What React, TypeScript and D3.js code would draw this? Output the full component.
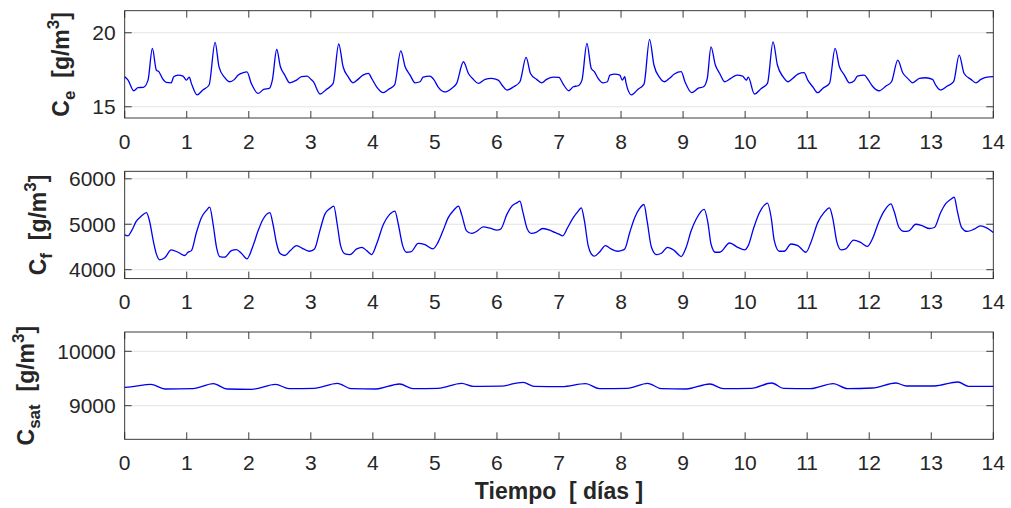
import React from "react";
import * as d3 from "d3";

// ---------- data ----------
const dayTicks = [0, 1, 2, 3, 4, 5, 6, 7, 8, 9, 10, 11, 12, 13, 14];

// C_e [g/m^3]
const ceTime = [
  0, 0.054, 0.145, 0.215, 0.3, 0.376, 0.446, 0.51, 0.55, 0.61, 0.67, 0.75, 0.79, 0.86, 0.94, 0.995,
  1.04, 1.075, 1.167, 1.26, 1.36, 1.457, 1.52, 1.61, 1.69, 1.77, 1.83, 1.91, 1.97,
  2.04, 2.15, 2.24, 2.33, 2.38, 2.45, 2.51, 2.58, 2.66, 2.77, 2.85, 2.94, 2.99,
  3.04, 3.15, 3.25, 3.36, 3.45, 3.52, 3.6, 3.68, 3.76, 3.84, 3.93, 3.98,
  4.06, 4.17, 4.25, 4.35, 4.45, 4.52, 4.6, 4.68, 4.76, 4.81, 4.92, 4.98,
  5.05, 5.16, 5.27, 5.35, 5.46, 5.54, 5.62, 5.7, 5.81, 5.91,
  6.02, 6.08, 6.16, 6.27, 6.37, 6.47, 6.54, 6.64, 6.72, 6.8, 6.91,
  7.0, 7.06, 7.16, 7.23, 7.31, 7.37, 7.45, 7.52, 7.57, 7.63, 7.71, 7.78, 7.82, 7.9, 7.98,
  8.02, 8.06, 8.08, 8.17, 8.27, 8.37, 8.46, 8.53, 8.62, 8.7, 8.78, 8.86, 8.97,
  9.03, 9.14, 9.24, 9.33, 9.39, 9.45, 9.52, 9.59, 9.67, 9.77, 9.87, 9.96,
  10.02, 10.05, 10.15, 10.26, 10.36, 10.45, 10.52, 10.61, 10.69, 10.77, 10.85, 10.95,
  11.01, 11.09, 11.17, 11.25, 11.36, 11.45, 11.52, 11.6, 11.68, 11.76, 11.81, 11.92, 11.98,
  12.05, 12.16, 12.27, 12.36, 12.46, 12.54, 12.62, 12.7, 12.81, 12.91,
  13.02, 13.07, 13.15, 13.26, 13.36, 13.45, 13.53, 13.64, 13.72, 13.8, 13.9, 14.0,
];
const ceValue = [
  17.03, 16.8, 16.08, 16.29, 16.31, 16.8, 18.94, 17.48, 17.37, 16.9, 16.65, 16.62, 17.03, 17.14, 17.07, 16.8,
  17.0, 16.58, 15.8, 16.13, 16.47, 19.35, 17.7, 16.98, 16.69, 16.85, 17.14, 17.3, 17.35,
  16.58, 15.9, 16.17, 16.24, 16.8, 18.87, 17.7, 17.14, 16.62, 16.8, 17.03, 17.07, 16.9,
  16.7, 15.86, 16.17, 16.58, 19.24, 17.7, 17.03, 16.62, 16.85, 17.14, 17.25, 16.92,
  16.35, 15.95, 16.17, 16.47, 18.78, 17.7, 17.14, 16.62, 16.69, 17.0, 17.07, 16.85,
  16.35, 16.0, 16.24, 16.58, 18.04, 17.25, 16.85, 16.58, 16.85, 16.92,
  16.8, 16.47, 16.13, 16.35, 16.69, 18.33, 17.25, 16.85, 16.62, 16.85, 17.0,
  16.98, 16.58, 16.08, 16.35, 16.42, 16.8, 19.28, 17.59, 17.37, 16.92, 16.62, 16.69, 17.14, 17.21, 17.14,
  16.8, 17.03, 16.62, 15.8, 16.17, 16.53, 19.55, 17.82, 16.98, 16.69, 16.92, 17.21, 17.37,
  16.69, 15.95, 16.24, 16.35, 16.92, 19.05, 17.82, 17.25, 16.69, 16.92, 17.14, 17.07,
  16.8, 17.0, 15.86, 16.24, 16.58, 19.39, 17.82, 17.03, 16.69, 16.92, 17.21, 17.3,
  16.8, 16.35, 15.95, 16.24, 16.58, 18.94, 17.7, 17.14, 16.62, 16.76, 17.07, 17.14, 16.85,
  16.4, 16.08, 16.4, 16.69, 18.15, 17.3, 16.92, 16.62, 16.92, 16.96,
  16.85, 16.47, 16.13, 16.4, 16.69, 18.49, 17.25, 16.85, 16.62, 16.85, 17.0, 17.03,
];

// C_f [g/m^3]
const cfTime = [
  0, 0.054, 0.11, 0.19, 0.27, 0.35, 0.4, 0.46, 0.51, 0.565, 0.645, 0.75, 0.86, 0.97,
  1.02, 1.075, 1.156, 1.236, 1.317, 1.37, 1.425, 1.48, 1.53, 1.61, 1.72, 1.8, 1.88, 1.97,
  2.06, 2.15, 2.23, 2.34, 2.39, 2.45, 2.5, 2.58, 2.67, 2.77, 2.88, 2.98,
  3.06, 3.145, 3.225, 3.31, 3.37, 3.425, 3.48, 3.55, 3.63, 3.74, 3.82, 3.9, 3.98,
  4.06, 4.17, 4.27, 4.355, 4.41, 4.48, 4.54, 4.62, 4.73, 4.84, 4.97,
  5.05, 5.13, 5.215, 5.3, 5.38, 5.43, 5.51, 5.59, 5.67, 5.78, 5.89,
  6.0, 6.06, 6.16, 6.24, 6.32, 6.37, 6.42, 6.49, 6.56, 6.63, 6.74, 6.85, 6.93,
  7.0, 7.06, 7.14, 7.23, 7.31, 7.36, 7.41, 7.47, 7.52, 7.57, 7.65, 7.75, 7.84, 7.95,
  8.0, 8.06, 8.14, 8.22, 8.3, 8.37, 8.42, 8.49, 8.57, 8.65, 8.75, 8.86, 8.97,
  9.05, 9.13, 9.21, 9.34, 9.4, 9.45, 9.52, 9.59, 9.75, 9.88, 9.99,
  10.05, 10.14, 10.23, 10.31, 10.36, 10.42, 10.47, 10.55, 10.63, 10.74, 10.85, 10.98,
  11.06, 11.17, 11.27, 11.36, 11.41, 11.48, 11.55, 11.62, 11.75, 11.86, 11.97,
  12.05, 12.16, 12.24, 12.35, 12.4, 12.48, 12.56, 12.64, 12.75, 12.86, 12.97,
  13.05, 13.15, 13.23, 13.31, 13.37, 13.42, 13.49, 13.58, 13.69, 13.79, 13.9, 14.0,
];
const cfValue = [
  4768, 4746, 4855, 5072, 5181, 5254, 5072, 4638, 4348, 4217, 4261, 4435, 4384, 4312,
  4384, 4420, 4819, 5145, 5304, 5377, 5000, 4493, 4290, 4275, 4420, 4442, 4362, 4239,
  4493, 4855, 5109, 5254, 5000, 4565, 4362, 4312, 4420, 4529, 4457, 4406,
  4457, 4855, 5217, 5348, 5399, 5000, 4529, 4348, 4333, 4457, 4493, 4420, 4333,
  4565, 5000, 5217, 5290, 5000, 4529, 4384, 4399, 4580, 4551, 4457,
  4601, 4855, 5145, 5304, 5399, 5217, 4855, 4797, 4841, 4942, 4913,
  4870, 4891, 5217, 5399, 5471, 5507, 5254, 4891, 4797, 4819, 4906, 4870, 4819,
  4783, 4746, 4928, 5145, 5290, 5362, 5072, 4529, 4348, 4297, 4384, 4529, 4457, 4406,
  4420, 4457, 4819, 5145, 5348, 5435, 5072, 4493, 4333, 4362, 4493, 4420, 4290,
  4493, 4855, 5109, 5326, 5036, 4565, 4384, 4384, 4587, 4493, 4435,
  4529, 4928, 5254, 5420, 5464, 5145, 4638, 4406, 4406, 4565, 4529, 4384,
  4601, 5036, 5254, 5362, 5145, 4601, 4435, 4457, 4652, 4601, 4514,
  4674, 5072, 5290, 5449, 5290, 4928, 4841, 4855, 5000, 4964, 4906,
  4928, 5254, 5449, 5543, 5594, 5290, 4928, 4841, 4891, 4964, 4913, 4819,
];

// C_sat [g/m^3]
const csatTime = [
  0, 0.1, 0.42, 0.65, 1.1, 1.43, 1.65, 2.05, 2.43, 2.65, 3.05, 3.43, 3.65, 4.05, 4.43, 4.65,
  5.05, 5.43, 5.62, 6.05, 6.42, 6.6, 7.05, 7.43, 7.65, 8.1, 8.43, 8.65, 9.05, 9.43, 9.65,
  10.1, 10.43, 10.62, 11.05, 11.42, 11.65, 12.05, 12.43, 12.6, 13.05, 13.43, 13.6, 14,
];
const csatValue = [
  9337, 9345, 9393, 9307, 9313, 9405, 9307, 9301, 9393, 9313, 9319, 9411, 9313, 9307, 9399, 9313,
  9319, 9411, 9356, 9360, 9429, 9356, 9350, 9405, 9313, 9319, 9411, 9313, 9307, 9399, 9313,
  9319, 9417, 9319, 9313, 9405, 9313, 9325, 9417, 9362, 9362, 9436, 9356, 9356,
];

const ceTicks = [15, 20];
const cfTicks = [4000, 5000, 6000];
const csatTicks = [9000, 10000];
const ceDomain = [14.24, 21.49];
const cfDomain = [3804, 6165];
const csatDomain = [8382, 10355];

const xLabel = "Tiempo\u00a0\u00a0[ días ]";

// ---------- layout ----------
const W = 1011;
const H = 508;
const left = 124.7;
const right = 993.3;
const panelH = 107.3;
const tickFont = 21;
const labelFont = 23;
const scriptFont = 17;
const fontFamily = "'Liberation Sans', Arial, Helvetica, sans-serif";
const axisColor = "#262626";

type Panel = {
  top: number;
  time: number[];
  values: number[];
  domain: number[];
  ticks: number[];
  sub: string;
  labelX: number;
};

const panels: Panel[] = [
  { top: 10.7, time: ceTime, values: ceValue, domain: ceDomain, ticks: ceTicks, sub: "e", labelX: 69 },
  { top: 171.3, time: cfTime, values: cfValue, domain: cfDomain, ticks: cfTicks, sub: "f", labelX: 46 },
  { top: 332, time: csatTime, values: csatValue, domain: csatDomain, ticks: csatTicks, sub: "sat", labelX: 34 },
];

const x = d3.scaleLinear().domain([0, 14]).range([left, right]);

function PanelView({ p }: { p: Panel }) {
  const bottom = p.top + panelH;
  const y = d3.scaleLinear().domain(p.domain).range([bottom, p.top]);
  const pts: [number, number][] = p.time.map((t, i) => [t, p.values[i]]);
  const line = d3
    .line<[number, number]>()
    .curve(d3.curveMonotoneX)
    .x((d) => x(d[0]))
    .y((d) => y(d[1]));
  const tl = 7;
  const cy = (p.top + bottom) / 2;
  return (
    <g>
      {p.ticks.map((t) => (
        <line key={"g" + t} x1={left} x2={right} y1={y(t)} y2={y(t)} stroke="#e3e3e3" strokeWidth={1} />
      ))}
      <path d={line(pts) || ""} fill="none" stroke="#0000f0" strokeWidth={1.3} strokeLinejoin="round" />
      {/* box */}
      <rect x={left} y={p.top} width={right - left} height={panelH} fill="none" stroke={axisColor} strokeWidth={0.9} />
      {/* x ticks */}
      {dayTicks.map((d) => (
        <g key={"x" + d}>
          <line x1={x(d)} x2={x(d)} y1={bottom} y2={bottom - tl} stroke={axisColor} strokeWidth={0.9} />
          <line x1={x(d)} x2={x(d)} y1={p.top} y2={p.top + tl} stroke={axisColor} strokeWidth={0.9} />
          <text x={x(d)} y={bottom + 30.5} textAnchor="middle" fontSize={tickFont} fill={axisColor} fontFamily={fontFamily}>
            {d}
          </text>
        </g>
      ))}
      {/* y ticks */}
      {p.ticks.map((t) => (
        <g key={"y" + t}>
          <line x1={left} x2={left + tl} y1={y(t)} y2={y(t)} stroke={axisColor} strokeWidth={0.9} />
          <line x1={right} x2={right - tl} y1={y(t)} y2={y(t)} stroke={axisColor} strokeWidth={0.9} />
          <text x={left - 9} y={y(t)} dy="0.36em" textAnchor="end" fontSize={tickFont} fill={axisColor} fontFamily={fontFamily}>
            {t}
          </text>
        </g>
      ))}
      {/* y label */}
      <text
        transform={`translate(${p.labelX},${cy}) rotate(-90)`}
        textAnchor="middle"
        fontSize={labelFont}
        fontWeight="bold"
        fill={axisColor}
        fontFamily={fontFamily}
      >
        <tspan>C</tspan>
        <tspan fontSize={scriptFont} dy={6}>{p.sub}</tspan>
        <tspan dy={-6}>{"\u00a0\u00a0[g/m"}</tspan>
        <tspan fontSize={scriptFont} dy={-10}>3</tspan>
        <tspan dy={10}>]</tspan>
      </text>
    </g>
  );
}

export default function App() {
  return (
    <svg
      width={W}
      height={H}
      viewBox={`0 0 ${W} ${H}`}
      style={{ position: "absolute", left: 0, top: 0, background: "#ffffff" }}
    >
      <rect x={0} y={0} width={W} height={H} fill="#ffffff" />
      {panels.map((p, i) => (
        <PanelView key={i} p={p} />
      ))}
      <text
        x={(left + right) / 2}
        y={499}
        textAnchor="middle"
        fontSize={23}
        fontWeight="bold"
        fill={axisColor}
        fontFamily={fontFamily}
      >
        {xLabel}
      </text>
    </svg>
  );
}
